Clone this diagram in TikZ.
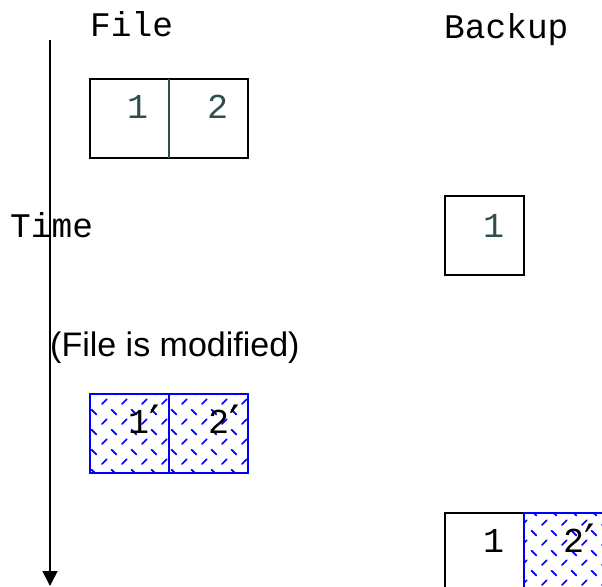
\documentclass[tikz,border=0pt]{standalone}
\usepackage{fontspec}
\setmainfont{Liberation Sans}
\newfontfamily\monofont{Liberation Mono}
\newfontfamily\primefont{DejaVu Sans}
\usetikzlibrary{patterns,arrows.meta}
\definecolor{slate}{HTML}{2F4F4F}
\newcommand{\myprime}{\raisebox{-5pt}{\primefont\fontsize{46}{46}\selectfont ′}}
\pgfdeclarepatternformonly{bluedash}{\pgfqpoint{0pt}{0pt}}{\pgfqpoint{20pt}{20pt}}{\pgfqpoint{20pt}{20pt}}{%
  \pgfsetlinewidth{1.8pt}\pgfsetroundcap
  \pgfpathmoveto{\pgfqpoint{2pt}{2pt}}\pgfpathlineto{\pgfqpoint{7pt}{7pt}}%
  \pgfpathmoveto{\pgfqpoint{12pt}{17pt}}\pgfpathlineto{\pgfqpoint{17pt}{12pt}}%
  \pgfusepath{stroke}}
\begin{document}
\begin{tikzpicture}[x=1pt,y=-1pt,
  cell/.style={draw=black,line width=2pt,minimum width=79pt,minimum height=79pt,inner sep=0pt,outer sep=0pt,anchor=north west},
  newcell/.style={cell,draw=blue,pattern=bluedash,pattern color=blue},
  mono/.style={font=\monofont\fontsize{34.5}{41}\selectfont,inner sep=0pt,anchor=base west},
  digit/.style={font=\monofont\fontsize{35}{42}\selectfont,inner sep=0pt,anchor=base west,text=slate},
  ndigit/.style={digit,text=black},
  sans/.style={font=\fontsize{34}{41}\selectfont,inner sep=0pt,anchor=base west},
  timearrow/.style={line width=1.6pt,-{Triangle[width=15pt,length=15pt]}},
  divider/.style={draw=slate,line width=2pt}]
\useasboundingbox (0,0) rectangle (602,586);
% time axis
\coordinate (ts) at (50,40);
\coordinate (te) at (50,586);
\draw[timearrow] (ts) -- (te);
% headings
\node[mono] (hfile) at (90,37) {File};
\node[mono] (hbackup) at (444,38) {Backup};
\node[mono] (htime) at (10,237) {Time};
\node[sans] (hmod) at (50,356) {(File is modified)};
% original file
\node[cell] (f1) at (90,79) {};
\node[cell] (f2) at (169,79) {};
\draw[divider] (f1.north east) -- (f1.south east);
\node[digit] (f1t) at (127,118) {1};
\node[digit] (f2t) at (207,118) {2};
% first backup
\node[cell] (b1) at (445,196) {};
\node[digit] (b1t) at (483,237) {1};
% modified file
\node[newcell] (m1) at (90,394) {};
\node[newcell] (m2) at (169,394) {};
\node[ndigit] (m1t) at (128,433) {1\myprime};
\node[ndigit] (m2t) at (208,433) {2\myprime};
% second backup
\node[cell] (c1) at (445,513) {};
\node[newcell] (c2) at (524,513) {};
\node[ndigit] (c1t) at (483,552) {1};
\node[ndigit] (c2t) at (563,552) {2\myprime};
\end{tikzpicture}
\end{document}
